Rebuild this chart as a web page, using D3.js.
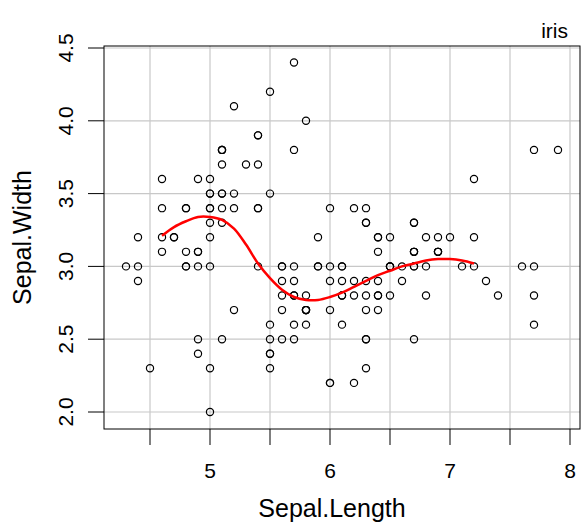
<!DOCTYPE html>
<html><head><meta charset="utf-8">
<script src="https://cdn.jsdelivr.net/npm/d3@7"></script>
<style>body{margin:0;background:#fff}</style>
</head><body>
<svg id="c" width="582" height="525"></svg>
<script>
// iris Sepal.Length / Sepal.Width
var sepalLength = [5.1,4.9,4.7,4.6,5.0,5.4,4.6,5.0,4.4,4.9,5.4,4.8,4.8,4.3,5.8,5.7,5.4,5.1,5.7,5.1,5.4,5.1,4.6,5.1,4.8,5.0,5.0,5.2,5.2,4.7,4.8,5.4,5.2,5.5,4.9,5.0,5.5,4.9,4.4,5.1,5.0,4.5,4.4,5.0,5.1,4.8,5.1,4.6,5.3,5.0,
7.0,6.4,6.9,5.5,6.5,5.7,6.3,4.9,6.6,5.2,5.0,5.9,6.0,6.1,5.6,6.7,5.6,5.8,6.2,5.6,5.9,6.1,6.3,6.1,6.4,6.6,6.8,6.7,6.0,5.7,5.5,5.5,5.8,6.0,5.4,6.0,6.7,6.3,5.6,5.5,5.5,6.1,5.8,5.0,5.6,5.7,5.7,6.2,5.1,5.7,
6.3,5.8,7.1,6.3,6.5,7.6,4.9,7.3,6.7,7.2,6.5,6.4,6.8,5.7,5.8,6.4,6.5,7.7,7.7,6.0,6.9,5.6,7.7,6.3,6.7,7.2,6.2,6.1,6.4,7.2,7.4,7.9,6.4,6.3,6.1,7.7,6.3,6.4,6.0,6.9,6.7,6.9,5.8,6.8,6.7,6.7,6.3,6.5,6.2,5.9];
var sepalWidth = [3.5,3.0,3.2,3.1,3.6,3.9,3.4,3.4,2.9,3.1,3.7,3.4,3.0,3.0,4.0,4.4,3.9,3.5,3.8,3.8,3.4,3.7,3.6,3.3,3.4,3.0,3.4,3.5,3.4,3.2,3.1,3.4,4.1,4.2,3.1,3.2,3.5,3.6,3.0,3.4,3.5,2.3,3.2,3.5,3.8,3.0,3.8,3.2,3.7,3.3,
3.2,3.2,3.1,2.3,2.8,2.8,3.3,2.4,2.9,2.7,2.0,3.0,2.2,2.9,2.9,3.1,3.0,2.7,2.2,2.5,3.2,2.8,2.5,2.8,2.9,3.0,2.8,3.0,2.9,2.6,2.4,2.4,2.7,2.7,3.0,3.4,3.1,2.3,3.0,2.5,2.6,3.0,2.6,2.3,2.7,3.0,2.9,2.9,2.5,2.8,
3.3,2.7,3.0,2.9,3.0,3.0,2.5,2.9,2.5,3.6,3.2,2.7,3.0,2.5,2.8,3.2,3.0,3.8,2.6,2.2,3.2,2.8,2.8,2.7,3.3,3.2,2.8,3.0,2.8,3.0,2.8,3.8,2.8,2.8,2.6,3.0,3.4,3.1,3.0,3.1,3.1,3.1,2.7,3.2,3.3,3.0,2.5,3.0,3.4,3.0];
// smooth line
var smoothX = [4.6,4.7,4.8,4.9,5.0,5.1,5.2,5.3,5.4,5.5,5.6,5.7,5.8,5.9,6.0,6.1,6.2,6.3,6.4,6.5,6.6,6.7,6.8,6.9,7.0,7.1,7.2];
var smoothY = [3.21,3.27,3.31,3.34,3.34,3.32,3.26,3.15,3.02,2.92,2.84,2.79,2.77,2.77,2.79,2.82,2.86,2.9,2.94,2.97,3.0,3.02,3.04,3.05,3.05,3.04,3.02];
var xTicks = [4.5,5,5.5,6,6.5,7,7.5,8];
var yTicks = [2.0,2.5,3.0,3.5,4.0,4.5];

var svg = d3.select("#c");
var L=104,R=580,T=46,B=429;
var x = d3.scaleLinear().domain([4.5,8]).range([150,570]);
var y = d3.scaleLinear().domain([2,4.5]).range([412,48]);
var font = "Liberation Sans, Arial";

svg.append("g").selectAll("line").data(xTicks).join("line")
  .attr("x1",d=>x(d)).attr("x2",d=>x(d)).attr("y1",T).attr("y2",B)
  .attr("stroke","#c8c8c8").attr("stroke-width",1.2);
svg.append("g").selectAll("line").data(yTicks).join("line")
  .attr("y1",d=>y(d)).attr("y2",d=>y(d)).attr("x1",L).attr("x2",R)
  .attr("stroke","#c8c8c8").attr("stroke-width",1.2);
svg.append("rect").attr("x",L).attr("y",T).attr("width",R-L).attr("height",B-T)
  .attr("fill","none").attr("stroke","#000").attr("stroke-width",1);

svg.append("g").selectAll("line").data(xTicks).join("line")
  .attr("x1",d=>x(d)).attr("x2",d=>x(d)).attr("y1",B).attr("y2",B+16).attr("stroke","#000");
svg.append("g").selectAll("text").data(xTicks.filter(d=>d%1==0)).join("text")
  .attr("x",d=>x(d)).attr("y",B+49).attr("text-anchor","middle")
  .attr("font-family",font).attr("font-size",21).text(d=>d);
svg.append("g").selectAll("line").data(yTicks).join("line")
  .attr("y1",d=>y(d)).attr("y2",d=>y(d)).attr("x1",L-16).attr("x2",L).attr("stroke","#000");
svg.append("g").selectAll("text").data(yTicks).join("text")
  .attr("transform",d=>"translate("+(L-31)+","+y(d)+") rotate(-90)").attr("text-anchor","middle")
  .attr("font-family",font).attr("font-size",21).text(d=>d.toFixed(1));

svg.append("text").attr("x",(L+R)/2-10).attr("y",517).attr("text-anchor","middle")
  .attr("font-family",font).attr("font-size",25).text("Sepal.Length");
svg.append("text").attr("transform","translate(31,"+((T+B)/2)+") rotate(-90)").attr("text-anchor","middle")
  .attr("font-family",font).attr("font-size",25).text("Sepal.Width");
svg.append("text").attr("x",568).attr("y",38).attr("text-anchor","end")
  .attr("font-family",font).attr("font-size",21).text("iris");

svg.append("g").selectAll("circle").data(sepalLength).join("circle")
  .attr("cx",d=>x(d)).attr("cy",(d,i)=>y(sepalWidth[i])).attr("r",3.6)
  .attr("fill","none").attr("stroke","#000").attr("stroke-width",1.2);

svg.append("path").datum(smoothX.map((d,i)=>[d,smoothY[i]]))
  .attr("d",d3.line().x(d=>x(d[0])).y(d=>y(d[1])).curve(d3.curveCatmullRom))
  .attr("fill","none").attr("stroke","#ff0000").attr("stroke-width",2.5);
</script>
</body></html>
